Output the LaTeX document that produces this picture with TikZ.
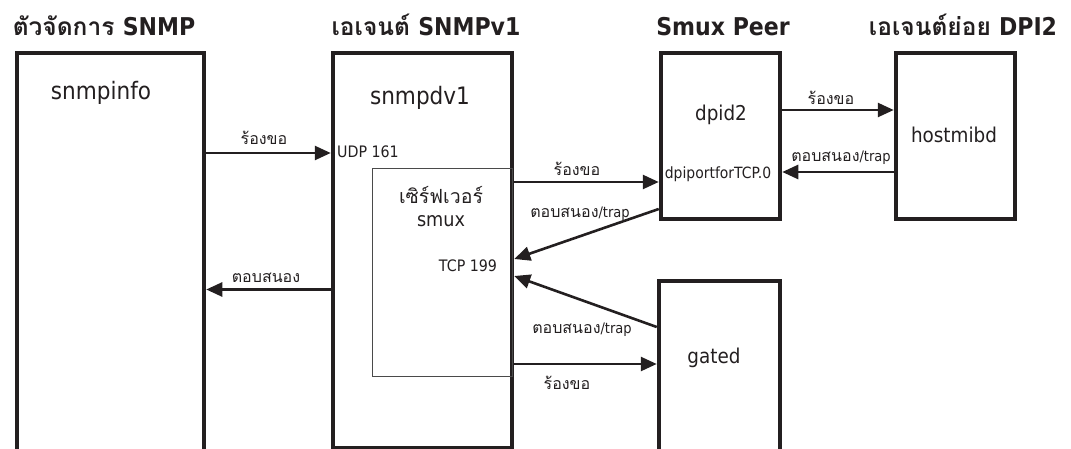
\documentclass[tikz,border=0pt]{standalone}
\usepackage{fontspec}
\setmainfont{Loma}[Script=Thai]
\newfontfamily\latf{DejaVu Sans}[FakeStretch=0.9]
\usetikzlibrary{arrows.meta}
\definecolor{ink}{HTML}{231F20}
\definecolor{thinline}{HTML}{4A4A4A}
\tikzset{
  frame/.style={draw=ink, line width=4.5pt, minimum width=#1, inner sep=0pt},
  innerframe/.style={draw=thinline, line width=1pt, inner sep=0pt},
  arr/.style={draw=ink, line width=2.6pt, -{Triangle[length=16pt,width=14pt]}},
  title/.style={text=ink, anchor=base, inner sep=0pt, font=\bfseries\fontsize{24.5}{28}\selectfont},
  bigtxt/.style={text=ink, anchor=base, inner sep=0pt, font=\latf\fontsize{24}{28}\selectfont},
  midtxt/.style={text=ink, anchor=base, inner sep=0pt, font=\latf\fontsize{20.4}{24}\selectfont},
  thaitxt/.style={text=ink, anchor=base, inner sep=0pt, font=\fontsize{19.5}{24}\selectfont},
  port/.style={text=ink, anchor=base, inner sep=0pt, font=\latf\fontsize{15.8}{18}\selectfont},
  msg/.style={text=ink, anchor=base, inner sep=0pt, font=\fontsize{16}{18}\selectfont},
}
\newcommand\trapword{{\latf\fontsize{14.5}{18}\selectfont/trap}}
\begin{document}
\begin{tikzpicture}[x=1pt,y=-1pt]
\useasboundingbox (0,0) rectangle (1071,449);

% group headings
\node[title] (h1) at (104,36) {ตัวจัดการ {\latf\bfseries SNMP}};
\node[title] (h2) at (426,36) {เอเจนต์ {\latf\bfseries SNMPv1}};
\node[title] (h3) at (723,36) {\latf\bfseries Smux Peer};
\node[title] (h4) at (963,36) {เอเจนต์ย่อย {\latf\bfseries DPI2}};

% process boxes (the open ones run past the lower edge)
\node[frame=187pt, minimum height=427pt] (snmpinfo) at (110.5,266.5) {};
\node[frame=179pt, minimum height=395pt] (snmpdv1) at (422.5,250.5) {};
\node[innerframe, minimum width=140pt, minimum height=207pt] (smux) at (442,272.5) {};
\node[frame=119pt, minimum height=166pt] (dpid2) at (720.5,136) {};
\node[frame=119pt, minimum height=166pt] (hostmibd) at (955.5,136) {};
\node[frame=121pt, minimum height=199pt] (gated) at (719.5,380.5) {};

% box texts
\node[bigtxt] (t1) at (101,100) {snmpinfo};
\node[bigtxt] (t2) at (420,105) {snmpdv1};
\node[midtxt] (t3) at (721,121) {dpid2};
\node[midtxt] (t4) at (954,143) {hostmibd};
\node[midtxt] (t5) at (714,363) {gated};
\node[thaitxt] (t6) at (441,204) {เซิร์ฟเวอร์};
\node[midtxt, font=\latf\fontsize{19.6}{24}\selectfont] (t7) at (441,227) {smux};
\node[port, font=\latf\fontsize{15.5}{18}\selectfont] (p1) at (718,179) {dpiportforTCP.0};
\node[port] (p2) at (468,272) {TCP 199};
\node[port, anchor=base west] (p3) at (337,158) {UDP 161};

% message flows
\draw[arr] (snmpinfo.east |- 0,153) -- (snmpdv1.west |- 0,153);
\draw[arr] (snmpdv1.east |- 0,182) -- (dpid2.west |- 0,182);
\draw[arr] (dpid2.west |- 0,209) -- (snmpdv1.east |- 0,259);
\draw[arr] (gated.west |- 0,327) -- (snmpdv1.east |- 0,276);
\draw[arr] (snmpdv1.east |- 0,364) -- (gated.west |- 0,364);
\draw[arr] (snmpdv1.west |- 0,289.5) -- (snmpinfo.east |- 0,289.5);
\draw[arr] (dpid2.east |- 0,110) -- (hostmibd.west |- 0,110);
\draw[arr] (hostmibd.west |- 0,172) -- (dpid2.east |- 0,172);

% message labels
\node[msg] (m1) at (264,145) {ร้องขอ};
\node[msg] (m2) at (577,176) {ร้องขอ};
\node[msg] (m3) at (580,218) {ตอบสนอง\trapword};
\node[msg] (m4) at (582,333) {ตอบสนอง\trapword};
\node[msg] (m5) at (567,389) {ร้องขอ};
\node[msg] (m6) at (266,282) {ตอบสนอง};
\node[msg] (m7) at (831,105) {ร้องขอ};
\node[msg] (m8) at (841,162) {ตอบสนอง\trapword};
\end{tikzpicture}
\end{document}
